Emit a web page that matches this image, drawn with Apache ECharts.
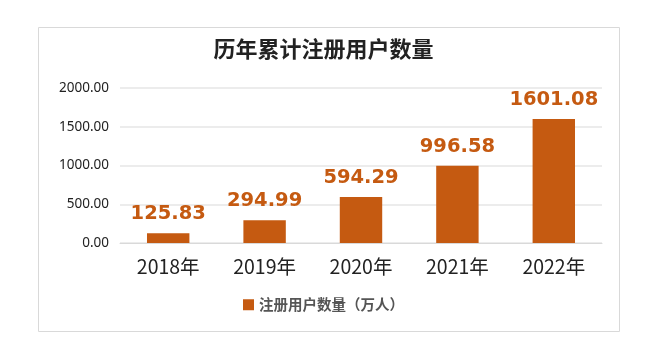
<!DOCTYPE html>
<html><head><meta charset="utf-8">
<script src="https://cdn.jsdelivr.net/npm/echarts@6/dist/echarts.min.js"></script>
<style>html,body{margin:0;padding:0;background:#fff}#c{width:647px;height:361px}</style>
</head><body><div id="c"></div>
<script>
const categories = ['2018年','2019年','2020年','2021年','2022年'];
const values = [125.83, 294.99, 594.29, 996.58, 1601.08];
const seriesName = '注册用户数量（万人）';
const titleText = '历年累计注册用户数量';
const chart = echarts.init(document.getElementById('c'));
chart.setOption({
  animation:false,
  graphic:[{type:'rect',shape:{x:38.5,y:27.5,width:581,height:304},style:{fill:'none',stroke:'#d9d9d9',lineWidth:1},z:-1}],
  title:{text:titleText,left:'center',top:33,textStyle:{fontSize:22,fontWeight:'bold',color:'#222',fontFamily:'Noto Sans CJK SC'}},
  legend:{bottom:44,left:'center',itemWidth:11,itemHeight:11,icon:'rect',itemGap:4,
    textStyle:{fontSize:14.5,fontWeight:'bold',color:'#555',fontFamily:'Noto Sans CJK SC'}},
  grid:{left:120,right:45,top:88,bottom:118},
  xAxis:{type:'category',data:categories,axisLine:{lineStyle:{color:'#d9d9d9'}},axisTick:{show:false},
    axisLabel:{fontSize:19.5,color:'#222',margin:14,fontFamily:'Noto Sans CJK SC'}},
  yAxis:{type:'value',min:0,max:2000,interval:500,axisLine:{show:false},axisTick:{show:false},
    splitLine:{lineStyle:{color:'#e6e6e6',width:1.5}},
    axisLabel:{fontSize:13.5,color:'#222',margin:11,formatter:v=>v.toFixed(2),fontFamily:'Noto Sans'}},
  series:[{name:seriesName,type:'bar',data:values,barWidth:'44%',itemStyle:{color:'#c55a11'},
    label:{show:true,position:'top',distance:9,formatter:p=>p.value.toFixed(2),fontSize:19.5,fontWeight:'bold',color:'#c55a11',fontFamily:'DejaVu Sans'}}]
});
</script></body></html>
